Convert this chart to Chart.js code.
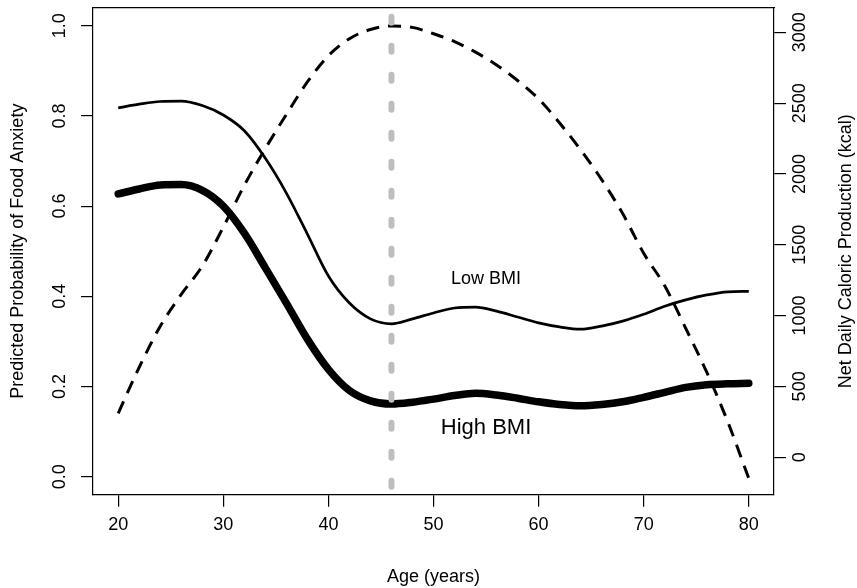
<!DOCTYPE html>
<html>
<head>
<meta charset="utf-8">
<script src="https://cdn.jsdelivr.net/npm/chart.js@4.4.1/dist/chart.umd.min.js"></script>
<style>
  html, body { margin: 0; padding: 0; background: #fff; }
</style>
</head>
<body>
<canvas id="chart" width="857" height="588"></canvas>
<script>
// Werte
const ages = [20, 22, 24, 26, 28, 30, 32, 34, 36, 38, 40, 42, 44, 46, 48, 50,
              52, 54, 56, 58, 60, 62, 64, 66, 68, 70, 72, 74, 76, 78, 80];
const lowBmi = [0.818, 0.826, 0.832, 0.833, 0.823, 0.802, 0.767, 0.706, 0.629, 0.538, 0.445,
                0.385, 0.350, 0.339, 0.350, 0.363, 0.374, 0.376, 0.367, 0.354, 0.341, 0.332,
                0.327, 0.334, 0.345, 0.360, 0.378, 0.392, 0.403, 0.410, 0.411];
const highBmi = [0.627, 0.638, 0.647, 0.648, 0.635, 0.600, 0.540, 0.463, 0.385, 0.305, 0.238,
                 0.191, 0.168, 0.161, 0.165, 0.172, 0.180, 0.185, 0.181, 0.174, 0.166, 0.160,
                 0.157, 0.160, 0.166, 0.176, 0.187, 0.198, 0.204, 0.206, 0.207];
const calories = [310, 635, 925, 1150, 1350, 1625, 1920, 2180, 2420, 2650, 2835,
                  2955, 3020, 3045, 3035, 2990, 2935, 2860, 2770, 2660, 2530, 2360,
                  2170, 1960, 1720, 1440, 1210, 910, 600, 250, -150];
const cutoffAge = 46;

const ageTicks = [20, 30, 40, 50, 60, 70, 80];
const probTicks = [0, 0.2, 0.4, 0.6, 0.8, 1.0];
const kcalTicks = [0, 500, 1000, 1500, 2000, 2500, 3000];

const ageRange = [17.6, 82.4];
const probRange = [-0.04, 1.04];
const kcalRange = [-265, 3174];

const FONT = "'Liberation Sans', Arial, sans-serif";

function fixTicks(values) {
    return (scale) => { scale.ticks = values.map((v) => ({ value: v })); };
}

// feste Achsengröße, ohne Überhang der Beschriftungen
function fixSize(w, h) {
    return (s) => {
        if (w !== null) s.width = w;
        if (h !== null) s.height = h;
        s.paddingTop = 0; s.paddingBottom = 0;
        s.paddingLeft = 0; s.paddingRight = 0;
    };
}

function pts(ys) {
    return ages.map((a, i) => ({ x: a, y: ys[i] }));
}

const tickGrid = { drawOnChartArea: false, drawTicks: true, tickLength: 12, color: "#000", lineWidth: 1.2 };
const axisBorder = { display: true, color: "#000", width: 1.2 };

// Beschriftungen im Plot + rechter Achsentitel
const textPlugin = {
    id: "texts",
    afterDraw(chart) {
        const { ctx, scales, chartArea } = chart;
        ctx.save();
        ctx.fillStyle = "#000";
        ctx.textAlign = "center";
        ctx.textBaseline = "middle";

        ctx.font = "18px " + FONT;
        ctx.fillText("Low BMI", scales.x.getPixelForValue(55), scales.y.getPixelForValue(0.438));
        ctx.font = "22px " + FONT;
        ctx.fillText("High BMI", scales.x.getPixelForValue(55), scales.y.getPixelForValue(0.108));

        ctx.font = "18px " + FONT;
        ctx.translate(846, (chartArea.top + chartArea.bottom) / 2);
        ctx.rotate(-Math.PI / 2);
        ctx.fillText("Net Daily Caloric Production (kcal)", 0, 0);
        ctx.restore();
    },
};

new Chart(document.getElementById("chart"), {
    type: "line",
    data: {
        datasets: [
            {
                label: "Age cutoff",
                data: [{ x: cutoffAge, y: probRange[1] }, { x: cutoffAge, y: probRange[0] }],
                yAxisID: "y",
                borderColor: "#bebebe",
                borderWidth: 6,
                borderDash: [6, 23],
                borderDashOffset: 20,
                borderCapStyle: "round",
                pointRadius: 0,
                order: 0,
            },
            {
                label: "Net Daily Caloric Production",
                data: pts(calories),
                yAxisID: "kcal",
                borderColor: "#000",
                borderWidth: 3,
                borderDash: [13, 9],
                pointRadius: 0,
                cubicInterpolationMode: "monotone",
                order: 1,
            },
            {
                label: "Low BMI",
                data: pts(lowBmi),
                yAxisID: "y",
                borderColor: "#000",
                borderWidth: 2.7,
                pointRadius: 0,
                cubicInterpolationMode: "monotone",
                order: 2,
            },
            {
                label: "High BMI",
                data: pts(highBmi),
                yAxisID: "y",
                borderColor: "#000",
                borderWidth: 7.5,
                borderCapStyle: "round",
                pointRadius: 0,
                cubicInterpolationMode: "monotone",
                order: 3,
            },
        ],
    },
    options: {
        responsive: false,
        animation: false,
        layout: { padding: 0, autoPadding: false },
        plugins: { legend: { display: false }, tooltip: { enabled: false } },
        scales: {
            x: {
                type: "linear",
                position: "bottom",
                min: ageRange[0],
                max: ageRange[1],
                afterBuildTicks: fixTicks(ageTicks),
                afterFit: fixSize(null, 93.3),
                grid: tickGrid,
                border: axisBorder,
                ticks: { color: "#000", font: { family: FONT, size: 18 }, padding: 8, maxRotation: 0, autoSkip: false },
                title: { display: true, text: "Age (years)", color: "#000", font: { family: FONT, size: 18 }, padding: { top: 0, bottom: 0.5 } },
            },
            top: {
                type: "linear",
                position: "top",
                min: ageRange[0],
                max: ageRange[1],
                afterFit: fixSize(null, 7.7),
                grid: { display: false },
                border: axisBorder,
                ticks: { display: false },
            },
            y: {
                type: "linear",
                position: "left",
                min: probRange[0],
                max: probRange[1],
                afterBuildTicks: fixTicks(probTicks),
                afterFit: fixSize(93, null),
                grid: tickGrid,
                border: axisBorder,
                ticks: {
                    color: "#000", font: { family: FONT, size: 18 }, minRotation: 90, maxRotation: 90,
                    crossAlign: "center", padding: 8, autoSkip: false,
                    callback: (v) => Number(v).toFixed(1),
                },
                title: { display: true, text: "Predicted Probability of Food Anxiety", color: "#000", font: { family: FONT, size: 18 }, padding: { top: 7.2, bottom: 0 } },
            },
            kcal: {
                type: "linear",
                position: "right",
                min: kcalRange[0],
                max: kcalRange[1],
                afterBuildTicks: fixTicks(kcalTicks),
                afterFit: fixSize(83, null),
                grid: tickGrid,
                border: axisBorder,
                ticks: {
                    color: "#000", font: { family: FONT, size: 18 }, minRotation: 90, maxRotation: 90,
                    crossAlign: "center", padding: -6, autoSkip: false,
                    callback: (v) => String(v),
                },
            },
        },
    },
    plugins: [textPlugin],
});
</script>
</body>
</html>
